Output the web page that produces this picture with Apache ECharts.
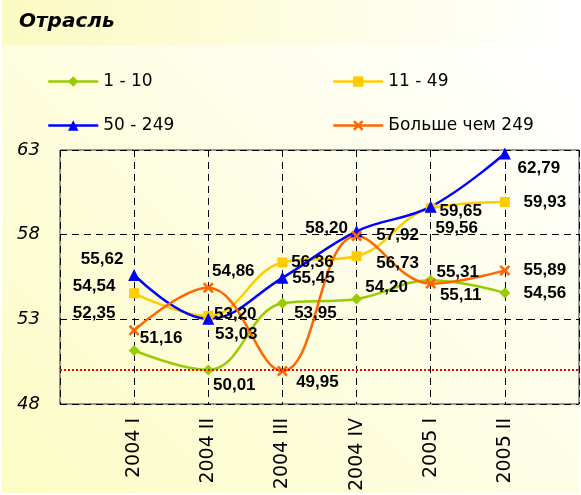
<!DOCTYPE html>
<html>
<head>
<meta charset="utf-8">
<script src="https://cdn.jsdelivr.net/npm/echarts@6/dist/echarts.min.js"></script>
<style>
  html, body { margin: 0; padding: 0; background: #ffffff; }
  #chart { width: 581px; height: 495px; }
</style>
</head>
<body>
<div id="chart"></div>
<script>
// Quarters on the horizontal axis
const categories = ['2004 I', '2004 II', '2004 III', '2004 IV', '2005 I', '2005 II'];

// Series values by enterprise size (number of employees)
const size1to10 = [51.16, 50.01, 53.95, 54.20, 55.31, 54.56];
const size11to49 = [54.54, 53.20, 56.36, 56.73, 59.56, 59.93];
const size50to249 = [55.62, 53.03, 55.45, 58.20, 59.65, 62.79];
const sizeOver249 = [52.35, 54.86, 49.95, 57.92, 55.11, 55.89];

const seriesNames = ['1 - 10', '11 - 49', '50 - 249', 'Больше чем 249'];

// Reference level drawn as a dotted red line
const referenceLevel = 50;

// Y axis ticks
const yTicks = [48, 53, 58, 63];

// Label offsets (px) from each point, per series
const labelShift = {
  g: [[27, -12], [26, 15], [33, 10], [30, -12], [27, -8], [40, 0]],
  y: [[-40, -7], [27, -2], [30, 0], [41, 7], [26, 20], [40, 0]],
  b: [[-32, -16], [28, 15], [31, 0], [-30, -3], [30, 5], [34, 15]],
  o: [[-40, -17], [25, -17], [35, 11], [41, -1], [30, 12], [40, 0]]
};

const fmt = v => v.toFixed(2).replace('.', ',');

// bold "x" marker
const crossPath = 'path://M0,2L2,0L6,4L10,0L12,2L8,6L12,10L10,12L6,8L2,12L0,10L4,6Z';

function buildSeries(name, values, color, symbol, symbolSize, shifts) {
  return {
    name: name,
    type: 'line',
    smooth: 0.4,
    data: values.map((v, i) => ({
      value: [i + 1, v],
      label: { offset: shifts[i] }
    })),
    symbol: symbol,
    symbolSize: symbolSize,
    lineStyle: { color: color, width: 2.5 },
    itemStyle: { color: color },
    label: {
      show: true,
      position: 'inside',
      align: 'center',
      verticalAlign: 'middle',
      formatter: p => fmt(p.value[1]),
      fontFamily: '"Liberation Sans", Arial, sans-serif',
      fontWeight: 'bold',
      fontSize: 17,
      color: '#000000'
    },
    z: 3
  };
}

const series = [
  buildSeries(seriesNames[0], size1to10, '#99cc00', 'diamond', 11, labelShift.g),
  buildSeries(seriesNames[1], size11to49, '#ffcc00', 'rect', 10, labelShift.y),
  buildSeries(seriesNames[2], size50to249, '#0000ff', 'triangle', 12, labelShift.b),
  buildSeries(seriesNames[3], sizeOver249, '#ff6600', crossPath, 11, labelShift.o)
];

series[0].markLine = {
  silent: true,
  symbol: 'none',
  label: { show: false },
  lineStyle: { color: '#ff0000', type: 'dotted', width: 2 },
  data: [{ yAxis: referenceLevel }]
};

const legendText = {
  fontFamily: '"DejaVu Sans", sans-serif',
  fontSize: 17,
  color: '#000000'
};

function legendAt(name, left, top) {
  return {
    data: [name],
    left: left,
    top: top,
    itemWidth: 50,
    itemHeight: 13,
    itemGap: 0,
    padding: 0,
    lineStyle: { width: 2.5 },
    textStyle: legendText,
    selectedMode: false
  };
}

const chart = echarts.init(document.getElementById('chart'), null, { renderer: 'canvas' });

chart.setOption({
  animation: false,
  backgroundColor: '#ffffff',
  graphic: {
    elements: [
      {
        type: 'rect',
        z: -20,
        shape: { x: 2, y: 0, width: 577, height: 493 },
        style: {
          fill: new echarts.graphic.LinearGradient(0, 1, 0.85, 0, [
            { offset: 0, color: '#fcfcc4' },
            { offset: 1, color: '#ffffff' }
          ])
        }
      },
      {
        type: 'rect',
        z: -10,
        shape: { x: 2, y: 0, width: 577, height: 45 },
        style: {
          fill: new echarts.graphic.LinearGradient(0, 0, 1, 0, [
            { offset: 0, color: '#fbfac2' },
            { offset: 1, color: '#ffffff' }
          ])
        }
      }
    ]
  },
  title: {
    text: 'Отрасль',
    left: 19,
    top: 12,
    padding: 0,
    textStyle: {
      fontFamily: '"DejaVu Sans", sans-serif',
      fontStyle: 'italic',
      fontWeight: 'bold',
      fontSize: 20,
      color: '#000000'
    }
  },
  legend: [
    legendAt(seriesNames[0], 47, 73),
    legendAt(seriesNames[1], 332, 73),
    legendAt(seriesNames[2], 47, 117),
    legendAt(seriesNames[3], 332, 117)
  ],
  grid: {
    left: 60,
    right: 2,
    top: 150,
    bottom: 91,
    show: true,
    borderColor: '#333333',
    borderWidth: 1,
    backgroundColor: 'transparent',
    containLabel: false
  },
  xAxis: {
    type: 'value',
    min: 0,
    max: categories.length + 1,
    interval: 1,
    axisLine: { show: false },
    axisTick: { show: false },
    splitLine: { show: true, lineStyle: { color: '#000000', type: [7, 5], width: 1 } },
    axisLabel: {
      rotate: 90,
      margin: 14,
      fontFamily: '"DejaVu Sans", sans-serif',
      fontSize: 19,
      color: '#000000',
      formatter: v => categories[v - 1] || ''
    }
  },
  yAxis: {
    type: 'value',
    min: yTicks[0],
    max: yTicks[yTicks.length - 1],
    interval: yTicks[1] - yTicks[0],
    axisLine: { show: false },
    axisTick: { show: false },
    splitLine: { show: true, lineStyle: { color: '#000000', type: [7, 5], width: 1 } },
    axisLabel: {
      margin: 20,
      fontFamily: '"DejaVu Sans", sans-serif',
      fontStyle: 'italic',
      fontSize: 18,
      color: '#000000'
    }
  },
  series: series
});
</script>
</body>
</html>
